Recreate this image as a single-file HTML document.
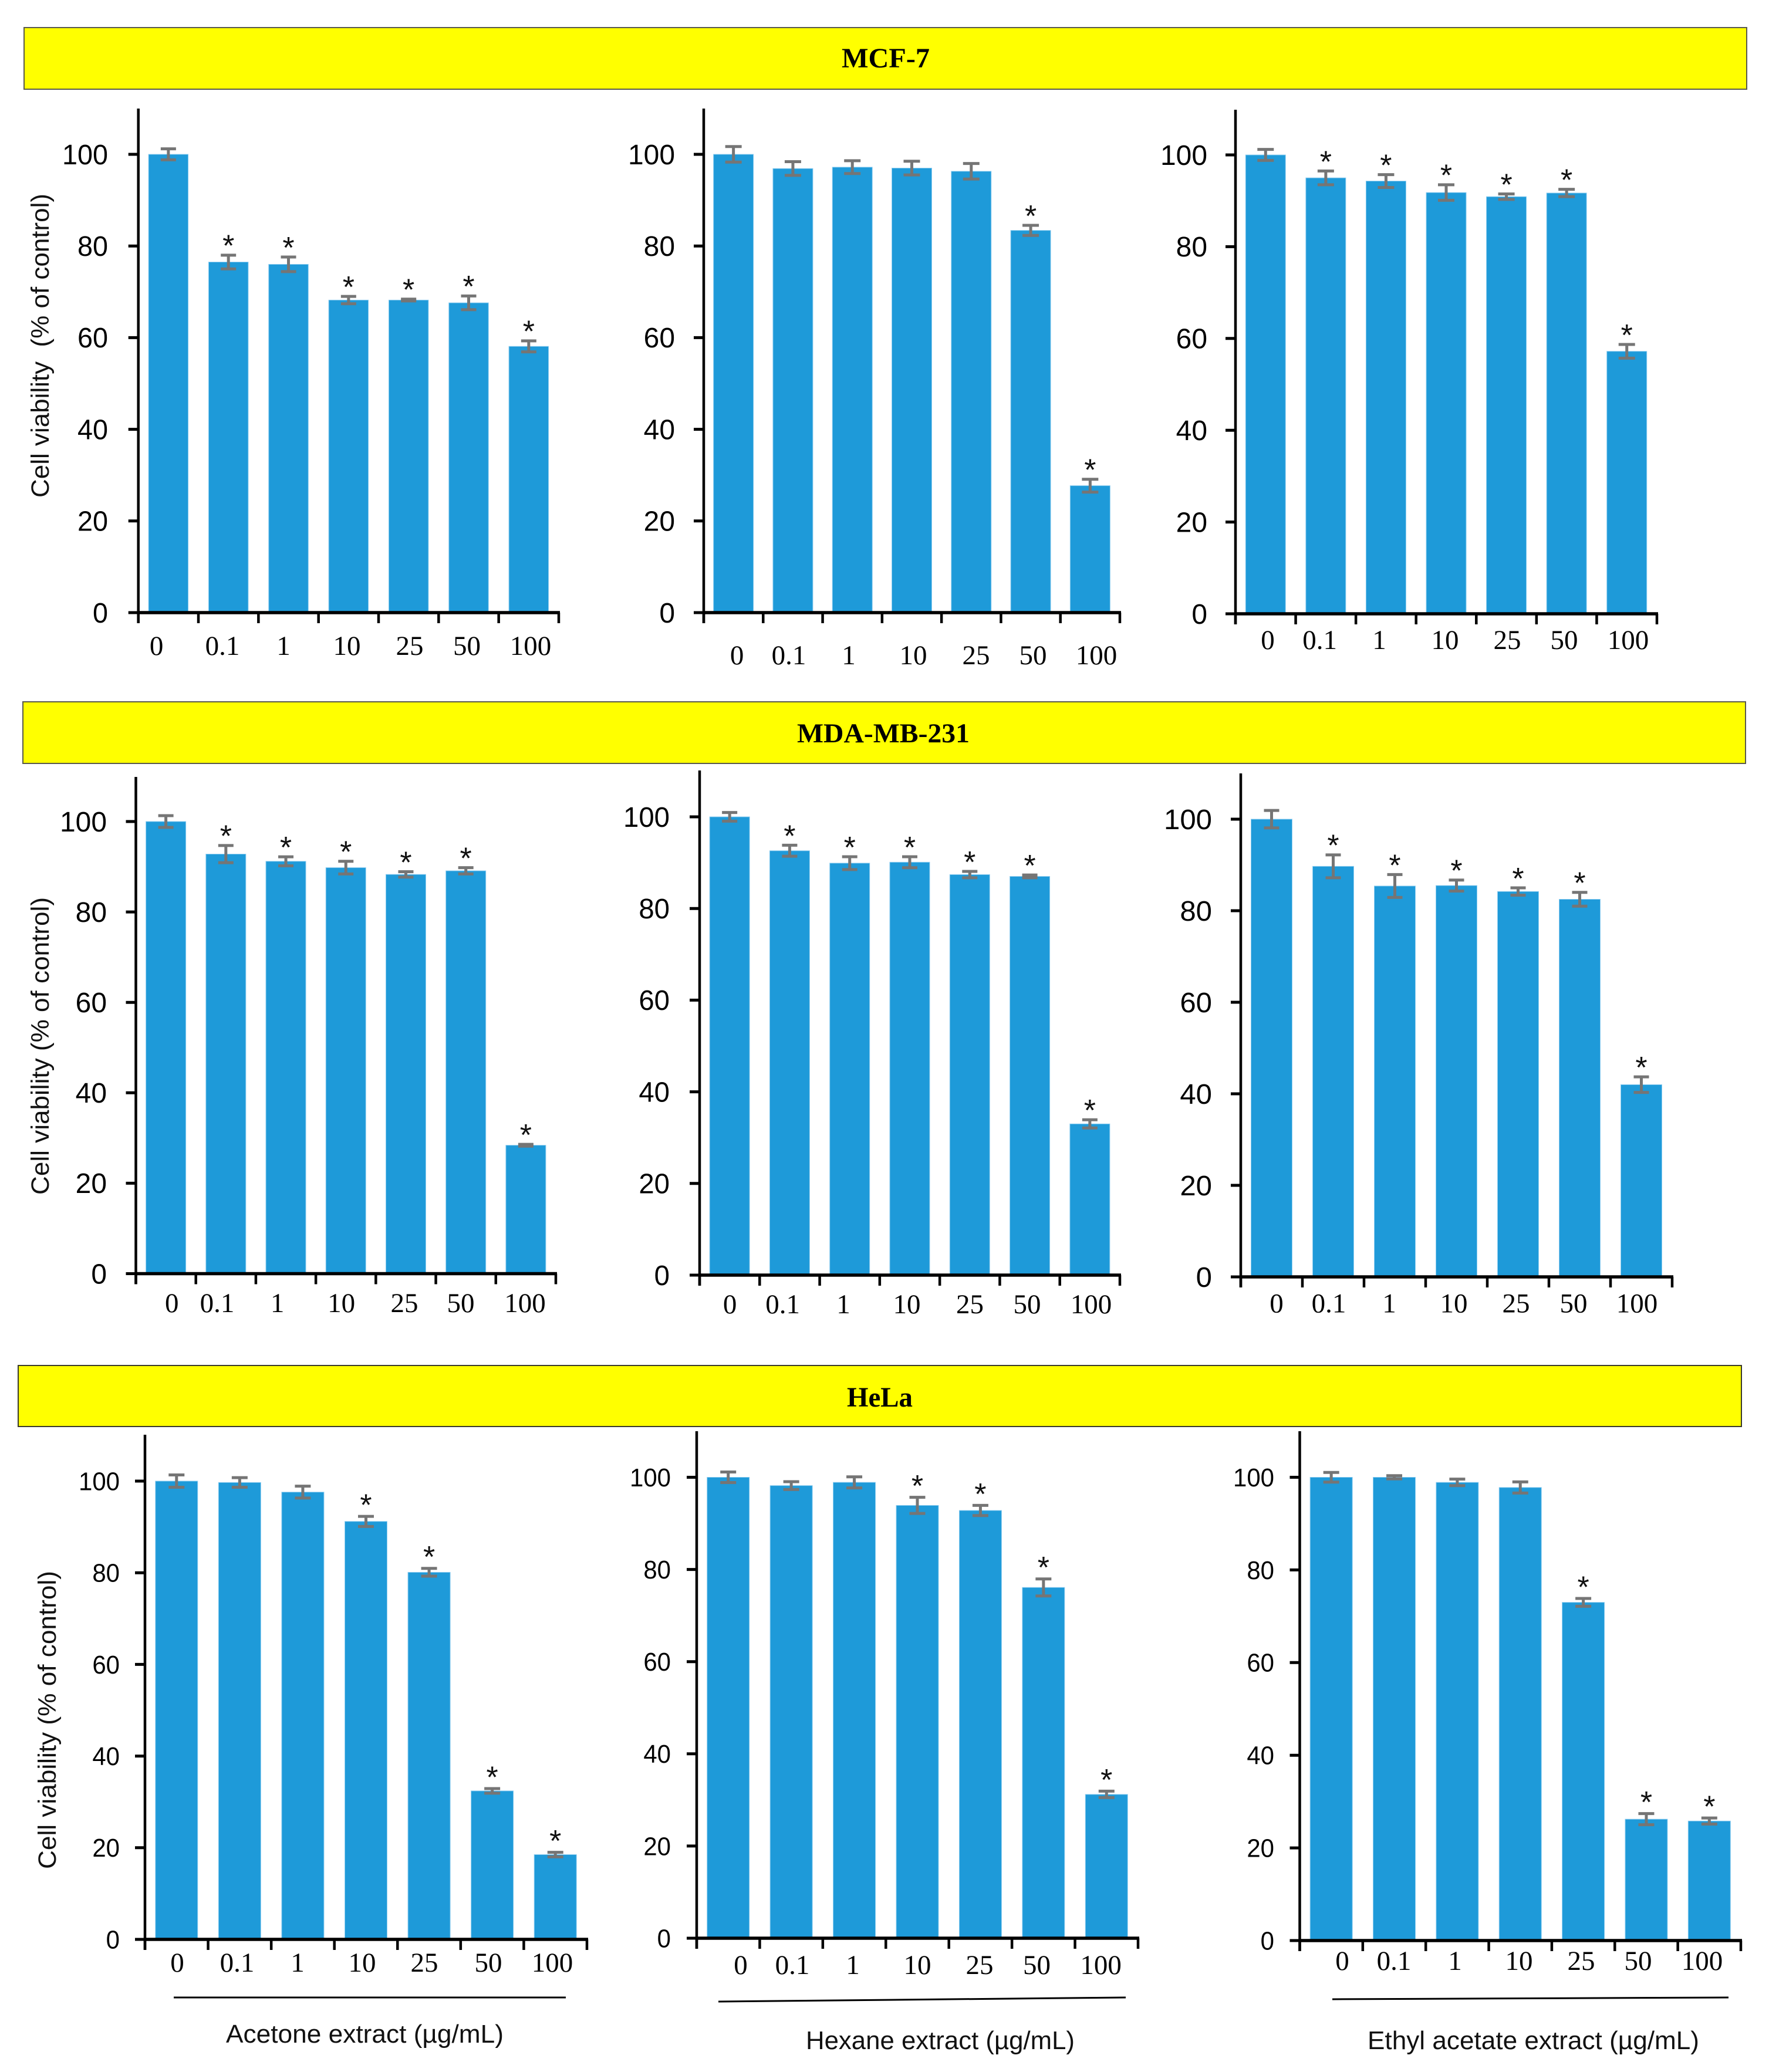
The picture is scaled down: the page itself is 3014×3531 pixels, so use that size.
<!DOCTYPE html>
<html lang="en">
<head>
<meta charset="utf-8">
<title>Cell viability by extract and cell line</title>
<style>
html,body{margin:0;padding:0;background:#fff;}
svg{display:block;}
</style>
</head>
<body>
<svg id="figure" xmlns="http://www.w3.org/2000/svg" width="3014" height="3531" viewBox="0 0 3014 3531">
<rect x="0" y="0" width="3014" height="3531" fill="#ffffff"/>

<g>
<rect x="41" y="47" width="2935" height="105" fill="#ffff00" stroke="#5a5a4a" stroke-width="2"/>
<text x="1509" y="115" text-anchor="middle" font-family="'Liberation Serif',serif" font-weight="700" font-size="48" textLength="150" lengthAdjust="spacingAndGlyphs">MCF-7</text>
</g>
<g>
<rect x="39" y="1196" width="2935" height="105" fill="#ffff00" stroke="#5a5a4a" stroke-width="2"/>
<text x="1505" y="1265" text-anchor="middle" font-family="'Liberation Serif',serif" font-weight="700" font-size="47" textLength="294" lengthAdjust="spacingAndGlyphs">MDA-MB-231</text>
</g>
<g>
<rect x="31" y="2327" width="2936" height="104" fill="#ffff00" stroke="#3a3a2a" stroke-width="2"/>
<text x="1499" y="2397" text-anchor="middle" font-family="'Liberation Serif',serif" font-weight="700" font-size="48" textLength="112" lengthAdjust="spacingAndGlyphs">HeLa</text>
</g>

<text transform="translate(83,848) rotate(-90)" font-family="'Liberation Sans',sans-serif" font-size="43" fill="#111" textLength="518" lengthAdjust="spacingAndGlyphs" xml:space="preserve">Cell viability  (% of control)</text>
<text transform="translate(83,2036) rotate(-90)" font-family="'Liberation Sans',sans-serif" font-size="43" fill="#111" textLength="507" lengthAdjust="spacingAndGlyphs">Cell viability (% of control)</text>
<text transform="translate(95,3185) rotate(-90)" font-family="'Liberation Sans',sans-serif" font-size="43" fill="#111" textLength="508" lengthAdjust="spacingAndGlyphs">Cell viability (% of control)</text>

<line x1="296" y1="3404" x2="964" y2="3404" stroke="#000" stroke-width="3"/>
<line x1="1224" y1="3411" x2="1918" y2="3404" stroke="#000" stroke-width="3"/>
<line x1="2270" y1="3407" x2="2945" y2="3404" stroke="#000" stroke-width="3"/>

<text x="385" y="3481" font-family="'Liberation Sans',sans-serif" font-size="44" fill="#111" textLength="473" lengthAdjust="spacingAndGlyphs">Acetone extract (µg/mL)</text>
<text x="1373" y="3492" font-family="'Liberation Sans',sans-serif" font-size="44" fill="#111" textLength="458" lengthAdjust="spacingAndGlyphs">Hexane extract (µg/mL)</text>
<text x="2330" y="3492" font-family="'Liberation Sans',sans-serif" font-size="44" fill="#111" textLength="565" lengthAdjust="spacingAndGlyphs">Ethyl acetate extract (µg/mL)</text>
</svg>

<script>
// ---- Chart data ----
const categories = ['0', '0.1', '1', '10', '25', '50', '100'];
const yTickValues = [0, 20, 40, 60, 80, 100];
const yMax = 110;

const mcf7AcetoneValues = [100, 76.5, 76, 68.2, 68.2, 67.6, 58.1];
const mcf7AcetoneErrors = [1.2, 1.5, 1.6, 0.8, 0.2, 1.5, 1.2];
const mcf7AcetoneSignificant = [0, 1, 1, 1, 1, 1, 1];

const mcf7HexaneValues = [100, 96.9, 97.2, 97, 96.3, 83.4, 27.7];
const mcf7HexaneErrors = [1.7, 1.5, 1.4, 1.5, 1.7, 1.1, 1.4];
const mcf7HexaneSignificant = [0, 0, 0, 0, 0, 1, 1];

const mcf7EthylValues = [100, 95, 94.3, 91.8, 90.9, 91.7, 57.2];
const mcf7EthylErrors = [1.2, 1.5, 1.4, 1.7, 0.6, 0.8, 1.5];
const mcf7EthylSignificant = [0, 1, 1, 1, 1, 1, 1];

const mdaAcetoneValues = [100, 92.8, 91.2, 89.8, 88.3, 89.1, 28.4];
const mdaAcetoneErrors = [1.3, 1.9, 1, 1.4, 0.6, 0.7, 0.2];
const mdaAcetoneSignificant = [0, 1, 1, 1, 1, 1, 1];

const mdaHexaneValues = [100, 92.6, 89.9, 90.1, 87.4, 87, 33];
const mdaHexaneErrors = [0.95, 1.2, 1.4, 1.2, 0.7, 0.3, 0.9];
const mdaHexaneSignificant = [0, 1, 1, 1, 1, 1, 1];

const mdaEthylValues = [100, 89.7, 85.4, 85.5, 84.2, 82.5, 42];
const mdaEthylErrors = [1.9, 2.5, 2.5, 1.2, 0.8, 1.5, 1.7];
const mdaEthylSignificant = [0, 1, 1, 1, 1, 1, 1];

const helaAcetoneValues = [100, 99.7, 97.6, 91.2, 80.1, 32.4, 18.5];
const helaAcetoneErrors = [1.35, 1.05, 1.3, 1.1, 0.85, 0.5, 0.5];
const helaAcetoneSignificant = [0, 0, 0, 1, 1, 1, 1];

const helaHexaneValues = [100, 98.2, 98.9, 93.9, 92.8, 76.1, 31.2];
const helaHexaneErrors = [1.15, 0.85, 1.2, 1.75, 1.1, 1.85, 0.7];
const helaHexaneSignificant = [0, 0, 0, 1, 1, 1, 1];

const helaEthylValues = [100, 100, 98.9, 97.8, 73, 26.2, 25.8];
const helaEthylErrors = [1.05, 0.35, 0.7, 1.2, 0.85, 1.2, 0.65];
const helaEthylSignificant = [0, 0, 0, 0, 1, 1, 1];

// ---- Panel layout (frames and styling, separate from the data) ----
const SANS = "'Liberation Sans',sans-serif";
const panels = [
  {name:'mcf7-acetone', values:mcf7AcetoneValues, errors:mcf7AcetoneErrors, sig:mcf7AcetoneSignificant,
   x0:235.7, x1:952, y0:1044, y100:263, top:185, barW:67.5, capW:26, tickEnd:184, tickSize:48, tickW:78, starGap:27.5,
   labelX:[266.6,379,483,591,698,795.5,904], labelY:1116},
  {name:'mcf7-hexane', values:mcf7HexaneValues, errors:mcf7HexaneErrors, sig:mcf7HexaneSignificant,
   x0:1199, x1:1908, y0:1044, y100:263, top:185, barW:68, capW:28, tickEnd:1150, tickSize:48, tickW:80, starGap:27.5,
   labelX:[1255.6,1344,1446,1556,1663,1760,1868], labelY:1132},
  {name:'mcf7-ethyl-acetate', values:mcf7EthylValues, errors:mcf7EthylErrors, sig:mcf7EthylSignificant,
   x0:2105, x1:2823, y0:1046, y100:264, top:187, barW:68, capW:28, tickEnd:2057, tickSize:48, tickW:80, starGap:27.5,
   labelX:[2160,2248.6,2350,2462,2568,2665,2774], labelY:1106},
  {name:'mda-acetone', values:mdaAcetoneValues, errors:mdaAcetoneErrors, sig:mdaAcetoneSignificant,
   x0:231.5, x1:947, y0:2170.5, y100:1400, top:1324, barW:68, capW:26, tickEnd:182, tickSize:48, tickW:80, starGap:27.5,
   labelX:[292.7,370,472.6,581.6,689,785,894.5], labelY:2236},
  {name:'mda-hexane', values:mdaHexaneValues, errors:mdaHexaneErrors, sig:mdaHexaneSignificant,
   x0:1192, x1:1908, y0:2173, y100:1392, top:1313, barW:68, capW:26, tickEnd:1141, tickSize:48, tickW:79, starGap:27.5,
   labelX:[1243.6,1333.6,1437,1545,1652.5,1750,1859], labelY:2238},
  {name:'mda-ethyl-acetate', values:mdaEthylValues, errors:mdaEthylErrors, sig:mdaEthylSignificant,
   x0:2114, x1:2849, y0:2176, y100:1396, top:1318, barW:70, capW:26, tickEnd:2065, tickSize:48, tickW:82, starGap:27.5,
   labelX:[2175,2264,2367,2477,2583,2681,2789], labelY:2236.5},
  {name:'hela-acetone', values:helaAcetoneValues, errors:helaAcetoneErrors, sig:helaAcetoneSignificant,
   x0:247, x1:1000, y0:3305, y100:2524, top:2445, barW:72, capW:27, tickEnd:204, tickSize:44, tickW:70, starGap:31,
   labelX:[302,404,507,617,723,832,941], labelY:3360},
  {name:'hela-hexane', values:helaHexaneValues, errors:helaHexaneErrors, sig:helaHexaneSignificant,
   x0:1187, x1:1939, y0:3303, y100:2517.5, top:2439, barW:72, capW:27, tickEnd:1143, tickSize:44, tickW:70, starGap:31,
   labelX:[1262,1350,1453,1563,1669,1766.5,1875.6], labelY:3364},
  {name:'hela-ethyl-acetate', values:helaEthylValues, errors:helaEthylErrors, sig:helaEthylSignificant,
   x0:2214.5, x1:2966, y0:3307, y100:2517.5, top:2439, barW:72, capW:27, tickEnd:2171, tickSize:44, tickW:70, starGap:31,
   labelX:[2287,2375,2479,2588,2694,2791,2900], labelY:3357}
];

const NS = 'http://www.w3.org/2000/svg';
const figure = document.getElementById('figure');
const BAR_COLOR = '#1e9ad9';
const BAR_EDGE = '#8fcdf0';
const ERR_COLOR = '#757575';

function make(tag, attrs, parent) {
  const node = document.createElementNS(NS, tag);
  for (const k in attrs) node.setAttribute(k, attrs[k]);
  parent.appendChild(node);
  return node;
}

function drawPanel(p) {
  const g = make('g', {}, figure);
  
  

  const catW = (p.x1 - p.x0) / categories.length;
  const xScale = i => p.x0 + catW * (i + 0.5);
  const yScale = v => p.y0 - (p.y0 - p.y100) * v / 100;
  const digitW = p.tickW / 3;

  // bars first so axes sit on top
  p.values.forEach((v, i) => {
    const bar = make('rect', {
      x: xScale(i) - p.barW / 2,
      y: yScale(v),
      width: p.barW,
      height: p.y0 - yScale(v),
      fill: BAR_COLOR,
      stroke: BAR_EDGE,
      'stroke-width': 1
    }, g);
    
    
  });

  // error bars
  p.values.forEach((v, i) => {
    const e = p.errors[i];
    const cx = xScale(i);
    const eg = make('g', {stroke: ERR_COLOR, 'stroke-width': 5, fill: 'none'}, g);
    
    
    make('line', {x1: cx, x2: cx, y1: yScale(v + e), y2: yScale(v - e)}, eg);
    make('line', {x1: cx - p.capW / 2, x2: cx + p.capW / 2, y1: yScale(v + e), y2: yScale(v + e)}, eg);
    make('line', {x1: cx - p.capW / 2, x2: cx + p.capW / 2, y1: yScale(v - e), y2: yScale(v - e)}, eg);
  });

  // significance stars
  const starSize = 52;
  p.values.forEach((v, i) => {
    if (!p.sig[i]) return;
    const star = make('text', {
      x: xScale(i),
      y: yScale(v + p.errors[i]) - p.starGap + starSize * 0.565,
      'text-anchor': 'middle',
      'font-family': SANS,
      'font-size': starSize,
      fill: '#111'
    }, g);
    star.textContent = '*';
    
    
  });

  // y axis
  const yAxis = make('line', {x1: p.x0, x2: p.x0, y1: p.top, y2: p.y0 + 18, stroke: '#000', 'stroke-width': 4.5}, g);
  
  

  yTickValues.forEach(t => {
    const mark = make('line', {x1: p.x0 - 17, x2: p.x0, y1: yScale(t), y2: yScale(t), stroke: '#000', 'stroke-width': 5}, g);
    
    
    const txt = String(t);
    const label = make('text', {
      x: p.tickEnd,
      y: yScale(t) + p.tickSize * 0.35,
      'text-anchor': 'end',
      'font-family': SANS,
      'font-size': p.tickSize,
      fill: '#000',
      textLength: digitW * txt.length,
      lengthAdjust: 'spacingAndGlyphs'
    }, g);
    label.textContent = txt;
    
    
  });

  // x axis
  const xAxis = make('line', {x1: p.x0 - 2, x2: p.x1 + 2, y1: p.y0, y2: p.y0, stroke: '#000', 'stroke-width': 5.5}, g);
  
  

  for (let i = 0; i <= categories.length; i++) {
    const tx = p.x0 + catW * i;
    const mark = make('line', {x1: tx, x2: tx, y1: p.y0, y2: p.y0 + 18, stroke: '#000', 'stroke-width': 4.5}, g);
    
    
  }

  categories.forEach((c, i) => {
    const label = make('text', {
      x: p.labelX[i],
      y: p.labelY,
      'text-anchor': 'middle',
      'font-family': "'Liberation Serif',serif",
      'font-size': 47,
      fill: '#000'
    }, g);
    label.textContent = c;
    
    
  });
}

panels.forEach(drawPanel);
</script>
</body>
</html>
